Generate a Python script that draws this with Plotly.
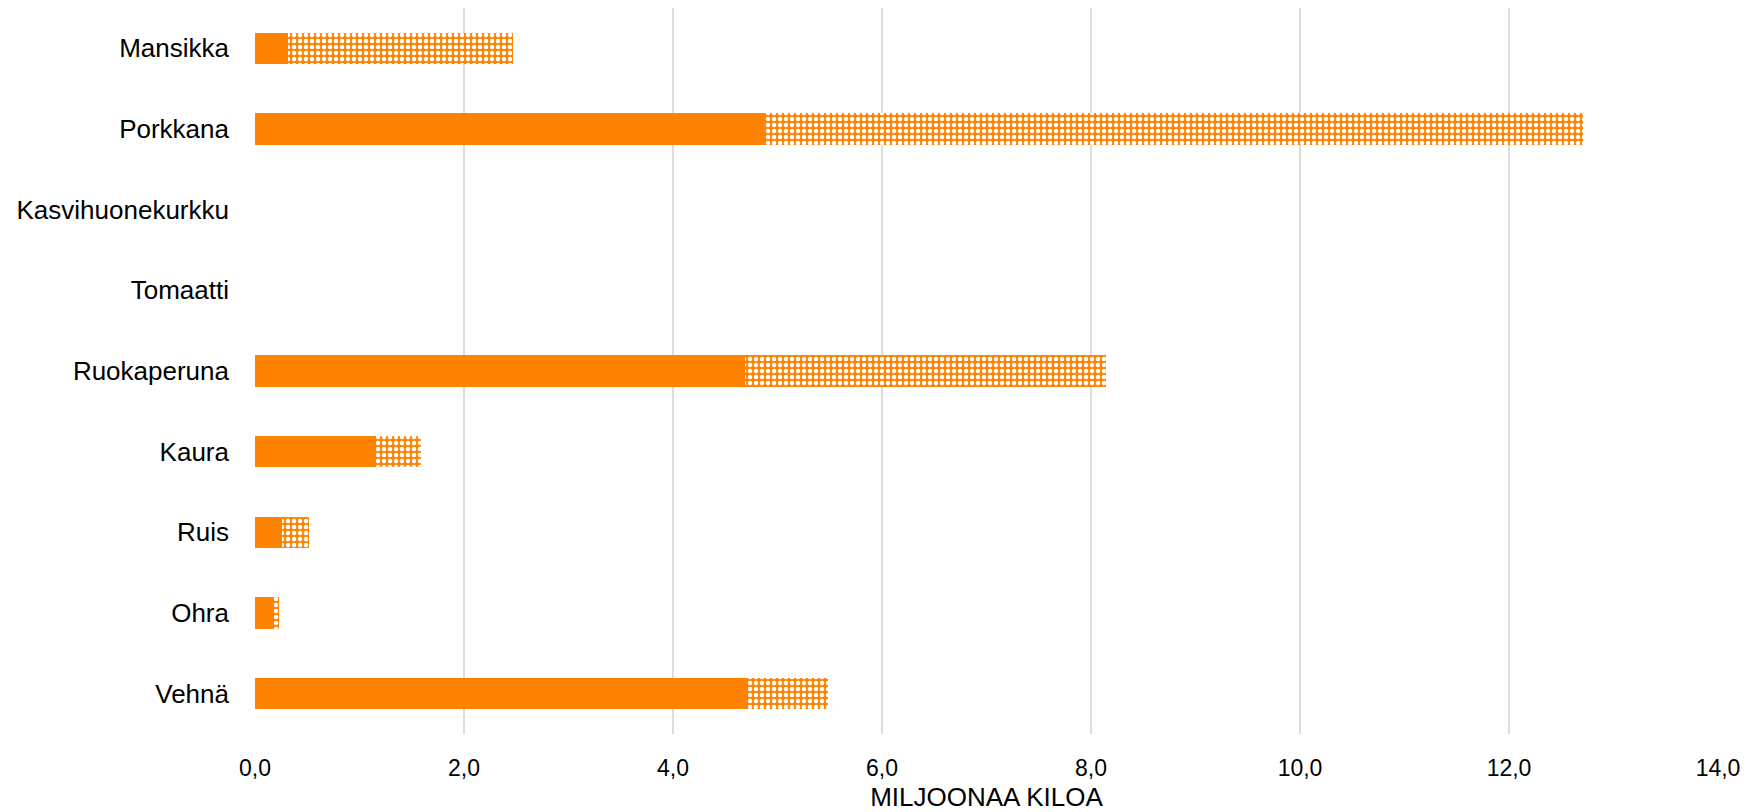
import plotly.graph_objects as go

# Crops, bottom to top on the y axis
categories = ["Vehnä", "Ohra", "Ruis", "Kaura", "Ruokaperuna",
              "Tomaatti", "Kasvihuonekurkku", "Porkkana", "Mansikka"]
# Million kilograms: solid part and patterned remainder
solid_values = [4.72, 0.17, 0.26, 1.16, 4.69, 0, 0, 4.87, 0.32]
total_values = [5.48, 0.23, 0.52, 1.59, 8.14, 0, 0, 12.71, 2.47]
pattern_values = [t - s for t, s in zip(total_values, solid_values)]

x_ticks = [0, 2, 4, 6, 8, 10, 12, 14]

ORANGE = "#FF8300"
FONT = "Liberation Sans"

fig = go.Figure()
fig.add_trace(go.Bar(
    y=categories, x=solid_values, orientation="h",
    marker=dict(color=ORANGE, line=dict(width=0)),
    showlegend=False,
))
fig.add_trace(go.Bar(
    y=categories, x=pattern_values, orientation="h",
    marker=dict(
        color=ORANGE, line=dict(width=0),
        pattern=dict(shape=".", fgcolor="white", fgopacity=1,
                     size=6, solidity=0.45, fillmode="overlay"),
    ),
    showlegend=False,
))

fig.update_layout(
    barmode="stack",
    bargap=0.615,
    width=1747, height=812,
    margin=dict(l=255, r=29, t=8, b=78),
    plot_bgcolor="white", paper_bgcolor="white",
    separators=", ",
    font=dict(family=FONT, size=22, color="#000000"),
)
fig.update_xaxes(
    range=[0, 14], tickvals=x_ticks, tickformat=".1f",
    showgrid=True, gridcolor="#DDDDDD", gridwidth=1.5,
    zeroline=False, showline=False, ticks="",
    ticklabelstandoff=18, automargin=False,
    tickfont=dict(family=FONT, size=23),
    title=dict(text="MILJOONAA KILOA", font=dict(family=FONT, size=26), standoff=8),
)
fig.update_yaxes(
    categoryorder="array", categoryarray=categories,
    range=[-0.5, 8.5],
    showgrid=False, zeroline=False, showline=False, ticks="",
    ticklabelstandoff=25,
    tickfont=dict(family=FONT, size=26),
)

fig.write_html("out.html")
